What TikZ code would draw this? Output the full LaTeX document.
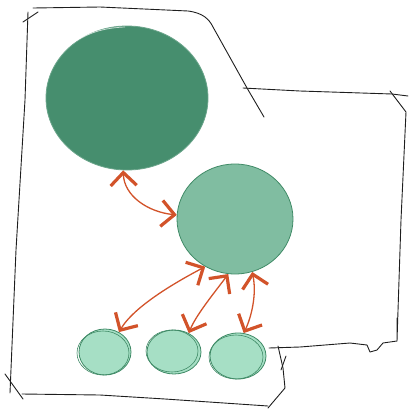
\documentclass[tikz,border=0pt]{standalone}
\usetikzlibrary{shapes.geometric,arrows.meta}
\definecolor{dkgreen}{HTML}{468E6E}
\definecolor{mdgreen}{HTML}{80BDA1}
\definecolor{ltgreen}{HTML}{A6DFC5}
\definecolor{edgegreen}{HTML}{3F8A66}
\definecolor{rust}{HTML}{D2532A}
\definecolor{ink}{HTML}{1E1E1E}
\tikzset{
  outline/.style={draw=ink, line width=0.9pt, line join=round, line cap=round},
  blob/.style={ellipse, inner sep=0pt, draw=edgegreen, line width=0.8pt},
  bigblob/.style={blob, fill=dkgreen, draw=dkgreen!80!white},
  midblob/.style={blob, fill=mdgreen},
  smallblob/.style={blob, fill=ltgreen},
  sketch/.style={draw=edgegreen, line width=0.6pt},
  link/.style={draw=rust, line width=1.3pt,
    {Straight Barb[length=13pt,width=26pt,line width=3.2pt]}-{Straight Barb[length=13pt,width=26pt,line width=3.2pt]}}
}
\begin{document}
\begin{tikzpicture}[x=1pt,y=-1pt]
\useasboundingbox (0,0) rectangle (411,413);
% outline
\draw[outline] (33,8) -- (100,7) -- (188,11) .. controls (203,13) and (209,19) .. (213,27) -- (247,88) -- (264,117);
\draw[outline] (243,88) -- (300,91) -- (392,94) -- (408,96);
\draw[outline] (390,91) -- (406,112) -- (401,220) -- (397,341) -- (397,318);
\draw[outline] (397,341) -- (383,343) -- (377,350) -- (370,352) -- (367,345) -- (350,343) -- (300,347) -- (269,348);
\draw[outline] (278,346) -- (283,368) -- (285,388) -- (268,408);
\draw[outline] (22,394) -- (100,395) -- (165,399) -- (268,406);
\draw[outline] (28,12) -- (25,100) -- (16,250) -- (10,393);
\draw[outline] (23,22) -- (38,12);
\draw[outline] (5,374) -- (23,399);
\draw[outline] (281,370) -- (286,356);
% circles
\node[bigblob, minimum width=162pt, minimum height=144pt] (big) at (127,98) {};
\draw[draw=white, line width=0.7pt, opacity=0.7] (62,52) .. controls (80,35) and (100,28) .. (125,27);
\node[midblob, minimum width=116pt, minimum height=110pt] (med) at (235,219) {};
\node[smallblob, minimum width=52pt, minimum height=46pt] (s1) at (105,352) {};
\node[smallblob, minimum width=54pt, minimum height=44pt] (s2) at (174,352) {};
\node[smallblob, minimum width=56pt, minimum height=46pt] (s3) at (238,356) {};
\draw[sketch] (103,353) ellipse (26 and 22);
\draw[sketch] (172,351) ellipse (26 and 21);
\draw[sketch] (236,357) ellipse (27 and 22);
% connectors
\draw[link] (big.-93) .. controls (124,196) and (148,212) .. (med.176);
\draw[link] (med.-122) .. controls (180,280) and (135,305) .. (s1.55);
\draw[link] (med.-97) .. controls (215,292) and (196,315) .. (s2.52);
\draw[link] (med.-72) .. controls (257,295) and (251,318) .. (s3.76);
\end{tikzpicture}
\end{document}
